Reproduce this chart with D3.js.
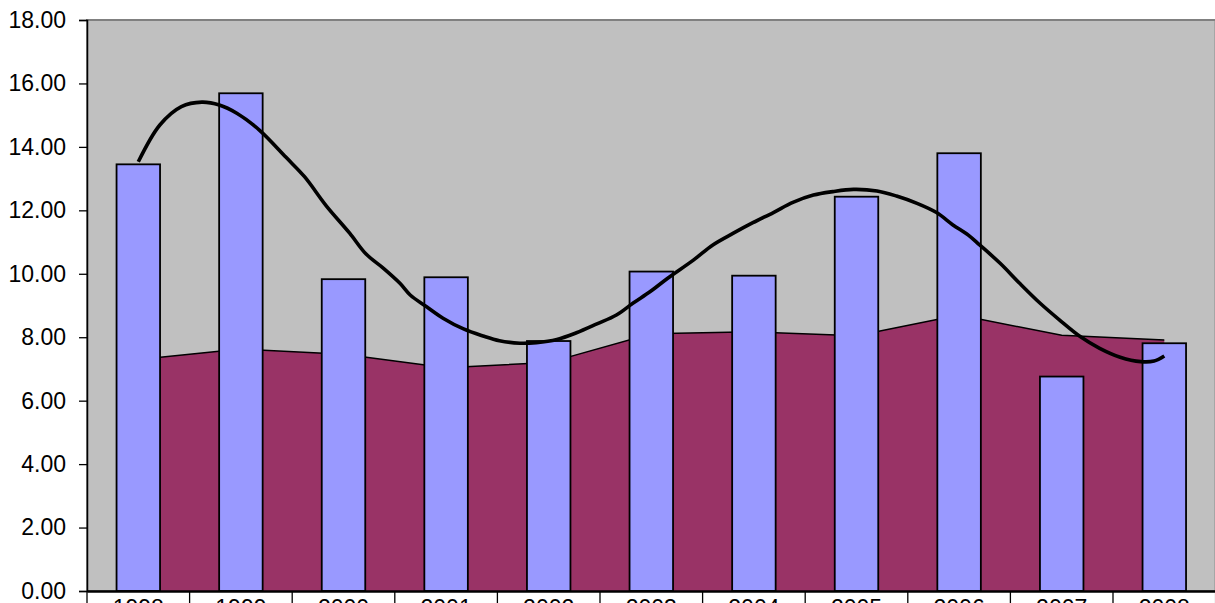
<!DOCTYPE html>
<html>
<head>
<meta charset="utf-8">
<script src="https://cdn.jsdelivr.net/npm/d3@7"></script>
<style>
  html, body { margin: 0; padding: 0; background: #fff; overflow: hidden; }
  svg text { font-family: Arial, "Liberation Sans", sans-serif; }
</style>
</head>
<body>
<div class="chart"></div>
<script>
const years = ["1998", "1999", "2000", "2001", "2002", "2003", "2004", "2005", "2006", "2007", "2008"]
const barValues = [13.45, 15.69, 9.83, 9.89, 7.88, 10.07, 9.94, 12.43, 13.80, 6.76, 7.81]
const areaValues = [7.30, 7.63, 7.46, 7.04, 7.20, 8.11, 8.17, 8.05, 8.70, 8.06, 7.91]
const yTicks = [0, 2, 4, 6, 8, 10, 12, 14, 16, 18]

// smooth curve, sampled along the category axis (index position, value)
const trendPos = [0, 0.21, 0.42, 0.62, 0.79, 0.96, 1.18, 1.44, 1.62, 1.83, 2.06, 2.22, 2.39, 2.55, 2.65, 2.81, 2.97,
    3.17, 3.36, 3.52, 3.72, 3.88, 4.08, 4.27, 4.47, 4.66, 4.82, 4.99, 5.16, 5.41, 5.60, 5.80, 5.99, 6.19, 6.38,
    6.58, 6.77, 6.97, 7.20, 7.39, 7.59, 7.78, 7.94, 8.09, 8.20, 8.40, 8.59, 8.79, 8.98, 9.18, 9.37, 9.57, 9.77, 9.90, 10]
const trendVal = [13.53, 14.69, 15.27, 15.41, 15.32, 15.06, 14.53, 13.67, 13.06, 12.15, 11.28, 10.62, 10.17, 9.70, 9.33, 8.96, 8.60,
    8.26, 8.04, 7.89, 7.81, 7.83, 7.93, 8.14, 8.42, 8.70, 9.07, 9.44, 9.86, 10.43, 10.91, 11.28, 11.61, 11.93, 12.25,
    12.48, 12.59, 12.66, 12.61, 12.45, 12.22, 11.93, 11.54, 11.22, 10.91, 10.33, 9.70, 9.07, 8.54, 8.02, 7.65, 7.37, 7.23, 7.25, 7.41]

const ctx = {
    W: 1215,
    H: 603,
    left: 87,
    top: 20,
    bottom: 591,
    step: 102.6,
}

function draw_chart() {
    const svg = d3.select(".chart")
        .append("svg")
        .attr("width", ctx.W)
        .attr("height", ctx.H)

    const right = ctx.left + ctx.step * years.length

    const x = d3.scaleBand()
        .domain(years)
        .range([ctx.left, right])
        .padding(0)

    // linear scale on category index, centres of the bands
    const xi = d3.scaleLinear()
        .domain([0, years.length - 1])
        .range([ctx.left + ctx.step / 2, right - ctx.step / 2])

    const y = d3.scaleLinear()
        .domain([0, 18])
        .range([ctx.bottom, ctx.top])

    // plot background
    svg.append("rect")
        .attr("x", ctx.left)
        .attr("y", ctx.top)
        .attr("width", right - ctx.left)
        .attr("height", ctx.bottom - ctx.top)
        .attr("fill", "#c0c0c0")
        .attr("stroke", "#808080")
        .attr("stroke-width", 2)

    // area series
    const area = d3.area()
        .x((d, i) => xi(i))
        .y0(y(0))
        .y1(d => y(d))
    svg.append("path")
        .datum(areaValues)
        .attr("d", area)
        .attr("fill", "#993366")

    svg.append("path")
        .datum(areaValues)
        .attr("d", d3.line().x((d, i) => xi(i)).y(d => y(d)))
        .attr("fill", "none")
        .attr("stroke", "#000")
        .attr("stroke-width", 1.5)

    // bars
    const barW = ctx.step * 0.424
    svg.append("g")
        .selectAll("rect")
        .data(barValues)
        .enter()
        .append("rect")
        .attr("x", (d, i) => x(years[i]) + (x.bandwidth() - barW) / 2)
        .attr("y", d => y(d))
        .attr("width", barW)
        .attr("height", d => y(0) - y(d))
        .attr("fill", "#9999ff")
        .attr("stroke", "#000")
        .attr("stroke-width", 1.8)

    // smooth line
    const line = d3.line()
        .x(d => xi(d[0]))
        .y(d => y(d[1]))
        .curve(d3.curveCatmullRom)
    svg.append("path")
        .datum(trendPos.map((p, i) => [p, trendVal[i]]))
        .attr("d", line)
        .attr("fill", "none")
        .attr("stroke", "#000")
        .attr("stroke-width", 3.6)
        .attr("stroke-linejoin", "round")

    // y axis
    const yAxis = svg.append("g")
        .attr("transform", `translate(${ctx.left},0)`)
        .call(d3.axisLeft(y).tickValues(yTicks).tickFormat(d3.format(".2f")).tickSize(8).tickPadding(13))
    yAxis.select(".domain").attr("stroke", "#000").attr("stroke-width", 1.5)
    yAxis.selectAll(".tick line").attr("stroke", "#000").attr("stroke-width", 1.3)
    yAxis.selectAll("text").attr("font-size", 23).attr("fill", "#000")
        .attr("font-family", "Arial, 'Liberation Sans', sans-serif")

    // x axis, labels cut by the bottom edge as in the original
    const xAxis = svg.append("g")
        .attr("transform", `translate(0,${ctx.bottom})`)
        .call(d3.axisBottom(x).tickSize(0).tickPadding(9))
    xAxis.select(".domain").attr("stroke", "#000").attr("stroke-width", 2.5)
    xAxis.selectAll("text").attr("font-size", 23).attr("fill", "#000")
        .attr("font-family", "Arial, 'Liberation Sans', sans-serif")

    // category separators below the axis
    svg.append("g")
        .selectAll("line")
        .data(years.concat(["end"]))
        .enter()
        .append("line")
        .attr("x1", (d, i) => ctx.left + i * x.step())
        .attr("x2", (d, i) => ctx.left + i * x.step())
        .attr("y1", ctx.bottom)
        .attr("y2", ctx.H)
        .attr("stroke", "#000")
        .attr("stroke-width", 1.3)
}

draw_chart()
</script>
</body>
</html>
